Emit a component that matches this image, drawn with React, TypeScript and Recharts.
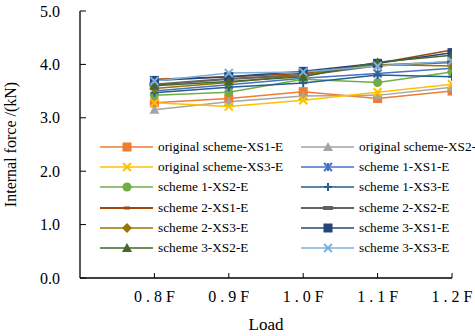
import React from 'react';
import { LineChart, Line, XAxis, YAxis } from 'recharts';

// Load levels (numeric x positions) and their tick labels
const loads = [0.8, 0.9, 1.0, 1.1, 1.2];
const loadLabels = ['0.8F', '0.9F', '1.0F', '1.1F', '1.2F'];
const yTicks = [0, 1, 2, 3, 4, 5];

// Internal force values (kN)
const origXS1 = [3.28, 3.36, 3.49, 3.36, 3.50];
const origXS2 = [3.15, 3.30, 3.41, 3.42, 3.57];
const origXS3 = [3.28, 3.21, 3.33, 3.48, 3.63];
const s1XS1 = [3.50, 3.62, 3.74, 3.83, 3.93];
const s1XS2 = [3.42, 3.48, 3.72, 3.66, 3.86];
const s1XS3 = [3.47, 3.57, 3.65, 3.80, 3.77];
const s2XS1 = [3.72, 3.77, 3.83, 4.02, 4.27];
const s2XS2 = [3.62, 3.73, 3.80, 3.98, 4.04];
const s2XS3 = [3.55, 3.66, 3.80, 4.00, 3.97];
const s3XS1 = [3.70, 3.77, 3.87, 4.02, 4.22];
const s3XS2 = [3.60, 3.68, 3.77, 4.04, 4.17];
const s3XS3 = [3.69, 3.84, 3.86, 3.97, 4.06];

type Shape = 'square' | 'triangle' | 'x' | 'star' | 'circle' | 'plus' | 'dash' | 'longdash' | 'diamond';

interface SeriesDef {
  key: string;
  name: string;
  values: number[];
  color: string;
  shape: Shape;
}

const series: SeriesDef[] = [
  { key: 'oXS1', name: 'original scheme-XS1-E', values: origXS1, color: '#ED7D31', shape: 'square' },
  { key: 'oXS2', name: 'original scheme-XS2-E', values: origXS2, color: '#A5A5A5', shape: 'triangle' },
  { key: 'oXS3', name: 'original scheme-XS3-E', values: origXS3, color: '#FFC000', shape: 'x' },
  { key: 's1XS1', name: 'scheme 1-XS1-E', values: s1XS1, color: '#4472C4', shape: 'star' },
  { key: 's1XS2', name: 'scheme 1-XS2-E', values: s1XS2, color: '#70AD47', shape: 'circle' },
  { key: 's1XS3', name: 'scheme 1-XS3-E', values: s1XS3, color: '#255E91', shape: 'plus' },
  { key: 's2XS1', name: 'scheme 2-XS1-E', values: s2XS1, color: '#9E480E', shape: 'dash' },
  { key: 's2XS2', name: 'scheme 2-XS2-E', values: s2XS2, color: '#636363', shape: 'longdash' },
  { key: 's2XS3', name: 'scheme 2-XS3-E', values: s2XS3, color: '#997300', shape: 'diamond' },
  { key: 's3XS1', name: 'scheme 3-XS1-E', values: s3XS1, color: '#264478', shape: 'square' },
  { key: 's3XS2', name: 'scheme 3-XS2-E', values: s3XS2, color: '#43682B', shape: 'triangle' },
  { key: 's3XS3', name: 'scheme 3-XS3-E', values: s3XS3, color: '#7CAFDD', shape: 'x' },
];

const data = loads.map((load, i) => {
  const row: Record<string, number> = { load };
  series.forEach((s) => {
    row[s.key] = s.values[i];
  });
  return row;
});

const FONT = '"Liberation Serif", "Times New Roman", serif';

const Marker = ({ cx, cy, shape, color }: { cx: number; cy: number; shape: Shape; color: string }) => {
  switch (shape) {
    case 'square':
      return <rect x={cx - 4.5} y={cy - 4.5} width={9} height={9} fill={color} />;
    case 'triangle':
      return <polygon points={`${cx},${cy - 5} ${cx + 5},${cy + 4} ${cx - 5},${cy + 4}`} fill={color} />;
    case 'x':
      return (
        <g stroke={color} strokeWidth={2}>
          <line x1={cx - 4} y1={cy - 4} x2={cx + 4} y2={cy + 4} />
          <line x1={cx - 4} y1={cy + 4} x2={cx + 4} y2={cy - 4} />
        </g>
      );
    case 'star':
      return (
        <g stroke={color} strokeWidth={2}>
          <line x1={cx - 4} y1={cy - 4} x2={cx + 4} y2={cy + 4} />
          <line x1={cx - 4} y1={cy + 4} x2={cx + 4} y2={cy - 4} />
          <line x1={cx} y1={cy - 4} x2={cx} y2={cy + 4} />
        </g>
      );
    case 'circle':
      return <circle cx={cx} cy={cy} r={4.5} fill={color} />;
    case 'plus':
      return (
        <g stroke={color} strokeWidth={2}>
          <line x1={cx - 4} y1={cy} x2={cx + 4} y2={cy} />
          <line x1={cx} y1={cy - 4} x2={cx} y2={cy + 4} />
        </g>
      );
    case 'dash':
      return <rect x={cx - 3} y={cy - 1.5} width={6} height={3} fill={color} />;
    case 'longdash':
      return <rect x={cx - 5} y={cy - 2} width={10} height={4} fill={color} />;
    case 'diamond':
      return <polygon points={`${cx},${cy - 5} ${cx + 5},${cy} ${cx},${cy + 5} ${cx - 5},${cy}`} fill={color} />;
    default:
      return null;
  }
};

const XTick = ({ x, y, payload }: any) => {
  const idx = loads.indexOf(payload.value);
  return (
    <g>
      <line x1={x} y1={y} x2={x} y2={y - 5} stroke="#000" strokeWidth={1} />
      <text x={x + 2} y={y + 24} textAnchor="middle" fontFamily={FONT} fontSize={16} letterSpacing={4} fill="#000">
        {idx >= 0 ? loadLabels[idx] : ''}
      </text>
    </g>
  );
};

const YTick = ({ x, y, payload }: any) => (
  <g>
    <line x1={x} y1={y} x2={x + 6} y2={y} stroke="#000" strokeWidth={1} />
    <text x={x - 20} y={y} dy="0.35em" textAnchor="end" fontFamily={FONT} fontSize={16} fill="#000">
      {payload.value.toFixed(1)}
    </text>
  </g>
);

const LegendBox = () => (
  <div
    style={{
      position: 'absolute',
      left: 100,
      top: 137,
      width: 375,
      overflow: 'hidden',
      display: 'grid',
      gridTemplateColumns: '201px 174px',
      rowGap: 0,
      fontFamily: FONT,
      fontSize: 13.3,
      color: '#000',
      whiteSpace: 'nowrap',
    }}
  >
    {series.map((s) => (
      <div key={s.key} style={{ display: 'flex', alignItems: 'center', height: 20.2 }}>
        <svg width={56} height={14} style={{ flex: 'none' }}>
          <line x1={0} y1={7} x2={53} y2={7} stroke={s.color} strokeWidth={s.shape === 'longdash' || s.shape === 'dash' ? 2 : 1.5} />
          <Marker cx={27} cy={7} shape={s.shape} color={s.color} />
        </svg>
        <span style={{ marginLeft: 2 }}>{s.name}</span>
      </div>
    ))}
  </div>
);

export default function App() {
  return (
    <div style={{ position: 'absolute', left: 0, top: 0, width: 475, height: 336, background: '#fff' }}>
      <LineChart width={475} height={336} data={data} margin={{ top: 11, right: 23, left: 0, bottom: 0 }}>
        <XAxis
          dataKey="load"
          type="number"
          domain={[0.7, 1.2]}
          ticks={loads}
          tickSize={0}
          tickMargin={0}
          tick={<XTick />}
          axisLine={{ stroke: '#000', strokeWidth: 1.3 }}
          height={58}
          label={{ value: 'Load', position: 'insideBottom', offset: 6, fontFamily: FONT, fontSize: 17, fill: '#000' }}
          allowDataOverflow
        />
        <YAxis
          type="number"
          domain={[0, 5]}
          ticks={yTicks}
          tickSize={0}
          tickMargin={0}
          tick={<YTick />}
          axisLine={{ stroke: '#000', strokeWidth: 1.3 }}
          width={80}
          label={{
            value: 'Internal force /(kN)',
            angle: -90,
            position: 'insideLeft',
            offset: 0,
            dx: 10,
            fontFamily: FONT,
            fontSize: 16,
            fill: '#000',
            style: { textAnchor: 'middle' },
          }}
        />
        {series.map((s) => (
          <Line
            key={s.key}
            dataKey={s.key}
            name={s.name}
            type="linear"
            stroke={s.color}
            strokeWidth={s.shape === 'longdash' ? 2.2 : 1.5}
            isAnimationActive={false}
            dot={(p: any) => <Marker key={`${s.key}-${p.index}`} cx={p.cx} cy={p.cy} shape={s.shape} color={s.color} />}
            activeDot={false}
          />
        ))}
      </LineChart>
      <LegendBox />
    </div>
  );
}
